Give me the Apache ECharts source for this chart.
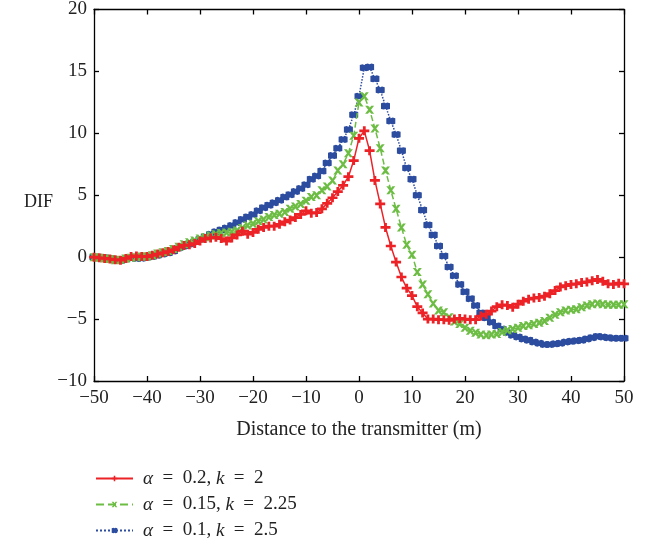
<!DOCTYPE html>
<html><head><meta charset="utf-8">
<script src="https://cdn.jsdelivr.net/npm/echarts@6/dist/echarts.min.js"></script>
<style>html,body{margin:0;padding:0;background:#fff}#c{width:654px;height:546px}</style>
</head><body><div id="c"></div>
<script>
const xValues = [];
for (let i = -50; i <= 50; i++) xValues.push(i);
const xTicks = [-50,-40,-30,-20,-10,0,10,20,30,40,50];
const yTicks = [-10,-5,0,5,10,15,20];
const seriesNames = ['a0.2', 'a0.15', 'a0.1'];
const redVals = [0,-0.05,-0.1,-0.15,-0.2,-0.25,-0.1,0.05,0.1,0.05,0.05,0.15,0.25,0.35,0.45,0.6,0.8,0.95,1.0,1.1,1.3,1.5,1.55,1.6,1.5,1.3,1.55,1.8,2.1,1.85,2.0,2.25,2.4,2.5,2.5,2.65,2.85,3.0,3.2,3.45,3.75,3.55,3.6,3.9,4.35,4.8,5.3,5.8,6.5,7.8,9.6,10.2,8.6,6.2,4.3,2.4,0.9,-0.4,-1.6,-2.5,-3.1,-4.0,-4.5,-5.0,-5.0,-5.05,-5.05,-5.1,-5.0,-4.95,-5.0,-5.05,-5.05,-4.75,-4.6,-4.35,-4.0,-3.85,-3.9,-4.05,-3.8,-3.55,-3.4,-3.3,-3.25,-3.15,-2.95,-2.7,-2.4,-2.3,-2.2,-2.15,-2.05,-2.0,-1.9,-1.8,-1.95,-2.15,-2.2,-2.1,-2.15];
const greenVals = [0,-0.05,-0.1,-0.15,-0.25,-0.2,-0.1,-0.05,0,0.05,0.05,0.15,0.3,0.4,0.5,0.65,0.85,1.05,1.2,1.35,1.5,1.6,1.75,1.85,1.95,2.0,2.05,2.15,2.35,2.55,2.7,2.9,3.05,3.25,3.4,3.5,3.65,3.9,4.1,4.3,4.55,4.85,5.0,5.4,5.7,6.2,7.0,7.5,8.4,9.8,12.5,13.0,11.9,10.4,8.8,7.0,5.4,3.9,2.4,1.0,0.2,-1.2,-2.2,-3.0,-3.75,-4.3,-4.45,-4.85,-5.2,-5.4,-5.7,-5.95,-6.1,-6.25,-6.3,-6.25,-6.2,-6.05,-5.9,-5.8,-5.7,-5.55,-5.5,-5.4,-5.3,-5.15,-4.9,-4.65,-4.45,-4.3,-4.25,-4.2,-4.05,-3.9,-3.8,-3.75,-3.8,-3.85,-3.85,-3.85,-3.8];
const blueVals = [0,0,-0.05,-0.1,-0.2,-0.27,-0.15,-0.05,-0.1,-0.08,0,0.05,0.15,0.25,0.35,0.5,0.75,0.9,1.07,1.25,1.45,1.65,1.85,2.05,2.2,2.35,2.55,2.8,3.05,3.25,3.45,3.75,4.0,4.2,4.4,4.6,4.85,5.05,5.3,5.55,5.85,6.3,6.55,6.95,7.6,8.2,8.8,9.5,10.3,11.5,13.0,15.3,15.35,14.4,13.5,12.2,11.0,9.9,8.6,7.2,6.3,5.0,3.8,2.6,1.8,0.9,0.1,-0.8,-1.5,-2.2,-2.8,-3.35,-3.9,-4.5,-4.9,-5.25,-5.55,-5.8,-6.1,-6.3,-6.45,-6.6,-6.7,-6.85,-6.95,-7.05,-7.05,-7.0,-6.95,-6.85,-6.8,-6.75,-6.7,-6.6,-6.5,-6.4,-6.45,-6.5,-6.55,-6.55,-6.55];

const FONT = 'Liberation Serif';
const RED = '#ec2227', GREEN = '#6dbd45', BLUE = '#2c4c9f';
const plusSym = 'path://M0,3.5L10,3.5L10,6.5L0,6.5Z M3.6,0L6.4,0L6.4,10L3.6,10Z';
const xSym = 'path://M0,0L3.2,0L10,10L6.8,10Z M6.8,0L10,0L3.2,10L0,10Z';
const starSym = 'path://M0,1L3,0L5,1L7,0L10,1L10,9L7,10L5,9L3,10L0,9Z';
const minus = v => String(v).replace('-', '\u2212');
const EQ = '\u2002=\u2002';
const legendLabels = {
  'a0.2': '{i|\u03b1}' + EQ + '0.2, {i|k}' + EQ + '2',
  'a0.15': '{i|\u03b1}' + EQ + '0.15, {i|k}' + EQ + '2.25',
  'a0.1': '{i|\u03b1}' + EQ + '0.1, {i|k}' + EQ + '2.5'
};
function pairs(vals){ return xValues.map((x,i)=>[x, vals[i]]); }
const axisCommon = {
  axisLine:{onZero:false,lineStyle:{color:'#000',width:1.3}},
  axisTick:{inside:true,length:5,lineStyle:{color:'#000',width:1.3}},
  splitLine:{show:false}
};
const chart = echarts.init(document.getElementById('c'));
chart.setOption({
  animation:false,
  backgroundColor:'#fff',
  grid:{left:94,right:30,top:7,bottom:165},
  xAxis:[
    Object.assign({type:'value',min:-50,max:50,interval:10,position:'bottom',
      axisLabel:{color:'#222',fontFamily:FONT,fontSize:19,margin:8,formatter:minus},
      name:'Distance to the transmitter (m)',nameLocation:'middle',nameGap:39,
      nameTextStyle:{color:'#222',fontFamily:FONT,fontSize:20}}, axisCommon),
    Object.assign({type:'value',min:-50,max:50,interval:10,position:'top',axisLabel:{show:false}}, axisCommon)
  ],
  yAxis:[
    Object.assign({type:'value',min:-10,max:20,interval:5,position:'left',
      axisLabel:{color:'#222',fontFamily:FONT,fontSize:19,margin:7,formatter:minus}}, axisCommon),
    Object.assign({type:'value',min:-10,max:20,interval:5,position:'right',axisLabel:{show:false}}, axisCommon)
  ],
  graphic:[{type:'text',left:24,top:193,style:{text:'DIF',font:'18px "Liberation Serif"',fill:'#222'}}],
  legend:{
    orient:'vertical',left:95,top:469,height:120,padding:0,itemGap:7,itemWidth:37,itemHeight:7,
    data:seriesNames,
    formatter:n=>legendLabels[n],
    textStyle:{color:'#222',fontFamily:FONT,fontSize:19,lineHeight:19,padding:[0,0,0,5],
      rich:{i:{fontStyle:'italic',fontFamily:FONT,fontSize:19,lineHeight:19,color:'#222'}}}
  },
  series:[
    {name:'a0.2',type:'line',data:pairs(redVals),symbol:plusSym,symbolSize:[10,9],showAllSymbol:true,
      lineStyle:{color:RED,width:1.5,type:'solid'},itemStyle:{color:RED},z:4},
    {name:'a0.15',type:'line',data:pairs(greenVals),symbol:xSym,symbolSize:[9,8],showAllSymbol:true,
      lineStyle:{color:GREEN,width:1.5,type:'dashed'},itemStyle:{color:GREEN},z:3},
    {name:'a0.1',type:'line',data:pairs(blueVals),symbol:starSym,symbolSize:[9,7],showAllSymbol:true,
      lineStyle:{color:BLUE,width:1.5,type:'dotted'},itemStyle:{color:BLUE},z:2}
  ]
});
</script></body></html>
